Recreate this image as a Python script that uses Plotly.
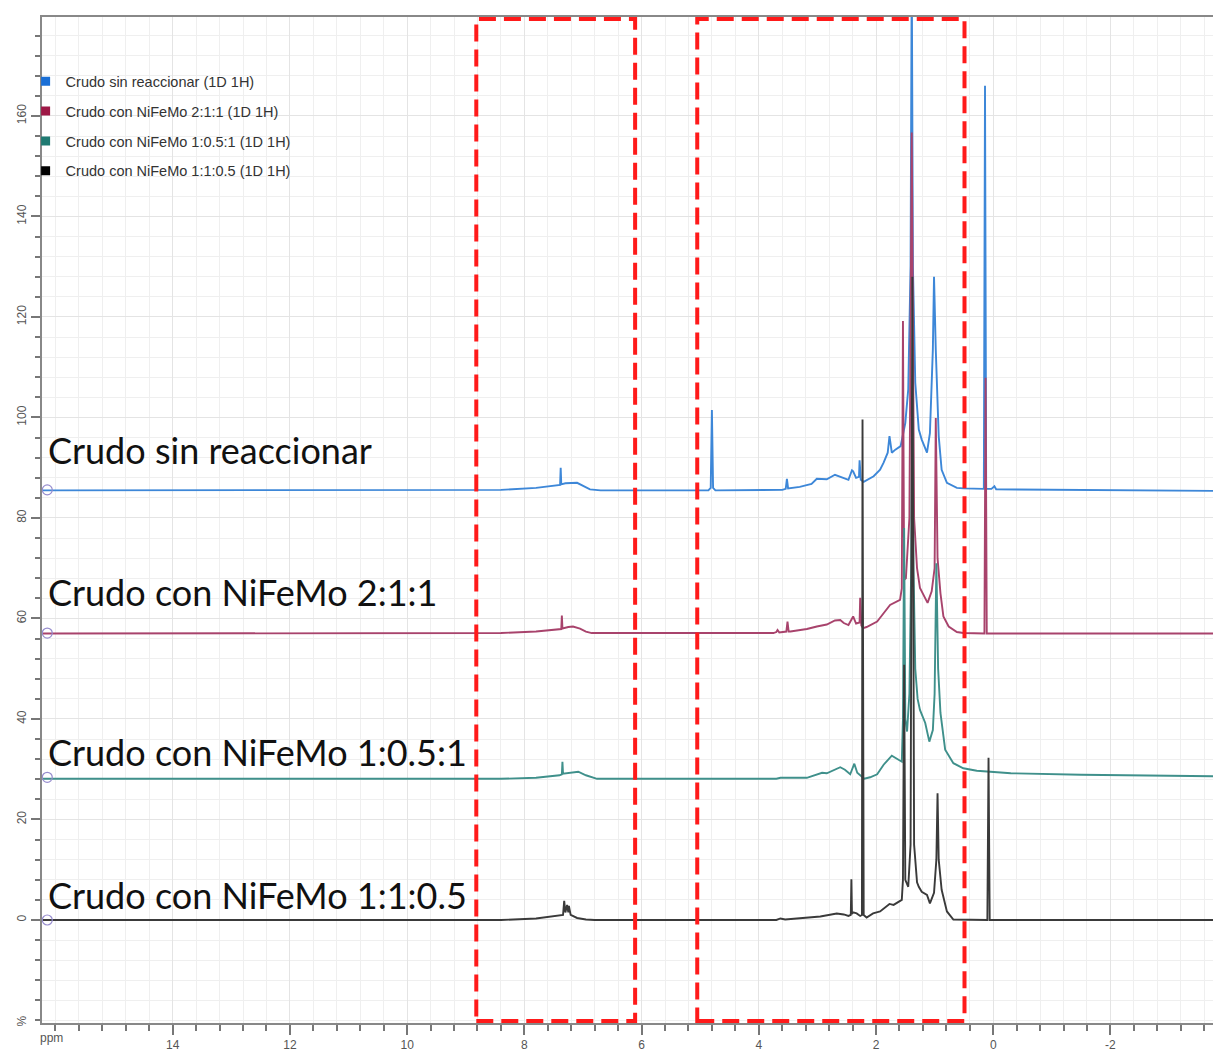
import plotly.graph_objects as go

# ---------------- data ----------------
legend_names = [
    "Crudo sin reaccionar (1D 1H)",
    "Crudo con NiFeMo 2:1:1 (1D 1H)",
    "Crudo con NiFeMo 1:0.5:1 (1D 1H)",
    "Crudo con NiFeMo 1:1:0.5 (1D 1H)",
]
label_texts = [
    "Crudo sin reaccionar",
    "Crudo con NiFeMo 2:1:1",
    "Crudo con NiFeMo 1:0.5:1",
    "Crudo con NiFeMo 1:1:0.5",
]
label_y = [93.6, 65.3, 33.5, 5.0]
baseline_marks = [85.6, 57.1, 28.4, 0.0]

x_tick_values = [14, 12, 10, 8, 6, 4, 2, 0, -2]
y_tick_values = [0, 20, 40, 60, 80, 100, 120, 140, 160]

# Crudo sin reaccionar
sin_ppm = [16.3, 9.0, 8.4, 7.8, 7.42, 7.39, 7.38, 7.37, 7.30, 7.19, 7.10, 6.98, 6.88, 6.70,
           4.86, 4.82, 4.80, 4.78, 4.74, 3.60, 3.54, 3.52, 3.50, 3.30, 3.10, 3.01, 2.84, 2.70,
           2.62, 2.55, 2.47, 2.41, 2.39, 2.34, 2.29, 2.28, 2.26, 2.21, 2.04, 1.93, 1.87, 1.80,
           1.77, 1.73, 1.67, 1.58, 1.50, 1.45, 1.41, 1.39, 1.37, 1.33, 1.27, 1.22, 1.13, 1.08,
           1.03, 1.01, 0.98, 0.93, 0.88, 0.79, 0.62, 0.51, 0.16, 0.14, 0.12, 0.03, -0.02, -0.05, -3.8]
sin_int = [85.5, 85.5, 85.6, 86.0, 86.5, 86.6, 90.0, 86.7, 86.9, 87.0, 87.0, 86.3, 85.7, 85.5,
           85.5, 86.0, 101.5, 86.0, 85.5, 85.6, 85.8, 87.8, 85.9, 86.2, 86.8, 87.8, 87.7, 88.6,
           88.3, 88.0, 87.6, 89.5, 89.3, 88.0, 88.2, 91.5, 87.6, 87.2, 88.3, 89.6, 91.0, 93.0,
           96.3, 93.0, 93.6, 94.3, 98.9, 105.6, 130.0, 190.0, 130.0, 106.9, 97.6, 95.6, 93.0, 96.9,
           113.5, 128.0, 113.5, 96.3, 89.6, 87.0, 86.0, 85.9, 85.8, 166.0, 85.8, 85.8, 86.3, 85.7, 85.4]

# Crudo con NiFeMo 2:1:1
n211_ppm = [16.3, 9.0, 8.4, 7.8, 7.42, 7.37, 7.36, 7.35, 7.25, 7.17, 7.05, 6.95, 6.85,
            3.75, 3.70, 3.68, 3.65, 3.53, 3.51, 3.49, 3.46, 3.18, 3.01, 2.84, 2.70, 2.61,
            2.55, 2.47, 2.39, 2.34, 2.28, 2.27, 2.25, 2.22, 2.16, 1.98, 1.94, 1.87, 1.76,
            1.59, 1.56, 1.54, 1.52, 1.49, 1.43, 1.39, 1.35, 1.30, 1.25, 1.12, 1.05, 1.00,
            0.98, 0.95, 0.90, 0.85, 0.76, 0.62, 0.51, 0.15, 0.13, 0.11, -3.8]
n211_int = [57.0, 57.0, 57.1, 57.4, 57.8, 57.9, 60.6, 58.0, 58.3, 58.4, 58.0, 57.4, 57.1,
            57.1, 57.3, 57.7, 57.2, 57.4, 59.4, 57.4, 57.4, 57.9, 58.4, 58.8, 59.6, 59.7,
            59.1, 58.7, 60.4, 59.0, 59.2, 64.1, 58.6, 58.1, 58.3, 59.4, 60.0, 61.1, 62.7,
            63.7, 66.0, 119.2, 67.7, 68.0, 80.0, 156.7, 80.0, 70.0, 66.1, 63.1, 65.4, 70.0,
            99.9, 72.0, 65.0, 60.4, 58.4, 57.3, 57.1, 57.0, 107.9, 57.0, 57.0]

# Crudo con NiFeMo 1:0.5:1
n1051_ppm = [16.3, 9.0, 8.4, 7.8, 7.40, 7.36, 7.35, 7.34, 7.20, 7.08, 6.95, 6.76,
             3.70, 3.63, 3.18, 3.01, 2.92, 2.84, 2.70, 2.61, 2.53, 2.44, 2.37, 2.32,
             2.20, 2.10, 1.98, 1.87, 1.73, 1.62, 1.56, 1.54, 1.52, 1.50, 1.47, 1.43,
             1.40, 1.38, 1.36, 1.33, 1.29, 1.25, 1.16, 1.09, 1.03, 1.00, 0.97, 0.94,
             0.90, 0.82, 0.68, 0.51, 0.28, -0.30, -1.50, -3.8]
n1051_int = [28.1, 28.1, 28.1, 28.3, 28.8, 29.0, 31.5, 29.1, 29.3, 29.5, 28.8, 28.1,
             28.1, 28.3, 28.3, 28.9, 29.3, 29.2, 30.0, 30.4, 29.9, 29.0, 31.1, 29.3,
             28.1, 28.4, 29.0, 30.9, 32.7, 31.9, 31.5, 40.0, 78.0, 40.0, 37.5, 45.0,
             70.0, 100.0, 70.0, 50.0, 44.0, 41.8, 39.2, 35.5, 37.8, 45.0, 71.0, 50.0,
             41.2, 33.9, 31.2, 30.2, 29.7, 29.2, 28.9, 28.6]

# Crudo con NiFeMo 1:1:0.5
n1105_ppm = [16.3, 8.4, 7.8, 7.40, 7.34, 7.32, 7.30, 7.27, 7.25, 7.24, 7.21, 7.10, 6.95, 6.80,
             3.70, 3.63, 3.55, 2.95, 2.67, 2.55, 2.47, 2.43, 2.42, 2.41, 2.39, 2.33, 2.27,
             2.24, 2.23, 2.21, 2.16, 2.05, 1.93, 1.77, 1.70, 1.56, 1.54, 1.52, 1.50, 1.45,
             1.41, 1.38, 1.35, 1.30, 1.27, 1.22, 1.13, 1.08, 1.01, 0.97, 0.95, 0.93, 0.88,
             0.79, 0.68, 0.10, 0.08, 0.06, -3.8]
n1105_int = [0.0, 0.0, 0.3, 0.8, 1.0, 3.8, 1.5, 3.0, 1.5, 2.8, 1.0, 0.4, 0.1, 0.0,
             0.0, 0.3, 0.1, 0.7, 1.3, 1.1, 0.8, 1.0, 8.1, 1.2, 1.5, 1.3, 0.8,
             1.0, 99.6, 1.0, 0.5, 1.3, 1.7, 3.2, 3.0, 4.0, 8.0, 50.8, 8.0, 6.6,
             15.0, 128.0, 15.0, 7.5, 6.6, 5.6, 5.0, 3.3, 5.4, 12.0, 25.2, 12.0, 6.0,
             1.7, 0.1, 0.0, 32.3, 0.0, 0.0]

# highlighted ppm windows (red dashed boxes)
box_left = [8.82, 5.05]
box_right = [6.11, 0.49]

# ---------------- styling ----------------
line_colors = ["#3d87d8", "#a8436c", "#3f908b", "#3a3a3a"]
legend_colors = ["#1a6fd6", "#9e1846", "#1f7a72", "#000000"]
series = [(sin_ppm, sin_int), (n211_ppm, n211_int), (n1051_ppm, n1051_int), (n1105_ppm, n1105_int)]

X_RANGE = [16.23, -3.75]
Y_RANGE = [-20.5, 179.7]

fig = go.Figure()

for i, (xs, ys) in enumerate(series):
    fig.add_trace(go.Scatter(
        x=xs, y=ys, mode="lines",
        line=dict(color=line_colors[i], width=1.9),
        showlegend=False, hoverinfo="skip",
    ))

# legend entries (square swatches)
for i, name in enumerate(legend_names):
    fig.add_trace(go.Scatter(
        x=[None], y=[None], mode="markers", name=name,
        marker=dict(symbol="square", size=9, color=legend_colors[i]),
        legendgroup=f"g{i}", showlegend=True,
    ))

# baseline markers on the left
fig.add_trace(go.Scatter(
    x=[16.14] * len(baseline_marks), y=baseline_marks, mode="markers",
    marker=dict(symbol="circle-open", size=10, color="#968cce", line=dict(width=1.2)),
    showlegend=False, hoverinfo="skip", cliponaxis=False,
))

# big labels
for txt, yv in zip(label_texts, label_y):
    fig.add_annotation(
        x=16.17, y=yv, xref="x", yref="y", text=txt, showarrow=False,
        xanchor="left", yanchor="middle",
        font=dict(family="Lato", size=36, color="#111111"),
    )

# red dashed boxes
for x0, x1 in zip(box_left, box_right):
    fig.add_shape(
        type="rect", xref="x", yref="paper", x0=x0, x1=x1, y0=0.002, y1=0.998,
        line=dict(color="#ff1a1a", width=4, dash="17px,8px"),
        fillcolor="rgba(0,0,0,0)", layer="above",
    )

# axis unit labels
fig.add_annotation(xref="paper", yref="paper", x=-0.003, y=-0.006, text="ppm",
                   showarrow=False, xanchor="left", yanchor="top",
                   font=dict(family="Liberation Sans", size=12, color="#555555"))
fig.add_annotation(xref="paper", yref="paper", x=-0.009, y=0.002, text="%",
                   showarrow=False, xanchor="right", yanchor="middle", textangle=-90,
                   font=dict(family="Liberation Sans", size=12, color="#555555"))

fig.update_layout(
    width=1213, height=1051,
    margin=dict(l=42, r=0, t=17, b=28),
    paper_bgcolor="white", plot_bgcolor="white",
    showlegend=True,
    legend=dict(
        x=-0.014, y=0.952, xanchor="left", yanchor="top",
        bgcolor="rgba(0,0,0,0)", borderwidth=0,
        font=dict(family="Liberation Sans", size=14.5, color="#333333"),
        tracegroupgap=8, itemclick=False,
    ),
    xaxis=dict(
        range=X_RANGE, tickmode="array", tickvals=x_tick_values,
        ticktext=[str(v).replace("-", "-") for v in x_tick_values],
        ticks="outside", ticklen=10, tickwidth=1.5,
        tickcolor="#777777", showline=True, linecolor="#888888", linewidth=1.5,
        mirror=True, showgrid=True, gridcolor="#e4e4e4", zeroline=False,
        tickfont=dict(family="Liberation Sans", size=12, color="#555555"),
        minor=dict(dtick=0.4, tick0=0, ticks="outside", ticklen=6, tickcolor="#777777",
                   showgrid=True, gridcolor="#efefef"),
    ),
    yaxis=dict(
        range=Y_RANGE, tickmode="array", tickvals=y_tick_values,
        ticks="outside", ticklen=9, tickwidth=1.5,
        tickcolor="#777777", showline=True, linecolor="#888888", linewidth=1.5,
        showgrid=True, gridcolor="#e4e4e4", zeroline=False, tickangle=-90,
        tickfont=dict(family="Liberation Sans", size=12, color="#555555"),
        minor=dict(dtick=4, tick0=0, ticks="outside", ticklen=5, tickcolor="#777777",
                   showgrid=True, gridcolor="#efefef"),
    ),
)

fig.write_html("out.html", config={"displayModeBar": False},
               post_script="document.body.style.margin='0';")
